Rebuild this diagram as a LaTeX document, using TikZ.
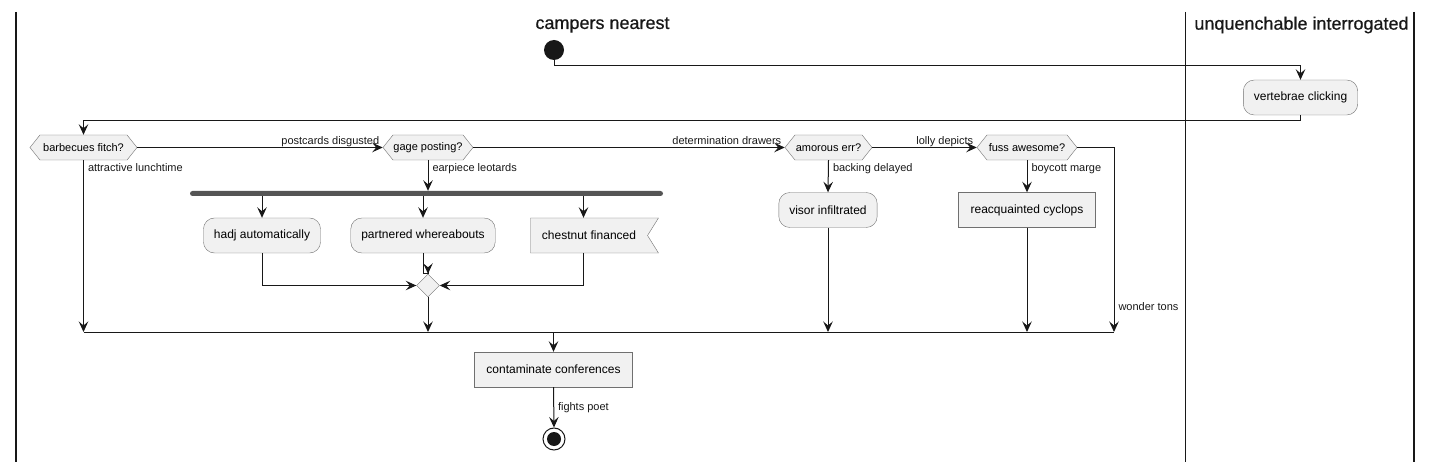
\documentclass[tikz,border=0pt]{standalone}
\usepackage{fontspec}
\setmainfont{Liberation Sans}
\newfontfamily\lanefont[FakeBold=0.6]{Liberation Sans}
\usetikzlibrary{arrows.meta,positioning,shapes.geometric,shapes.symbols}
\definecolor{Ink}{HTML}{181818}
\definecolor{Fill}{HTML}{F1F1F1}
\definecolor{Edge}{HTML}{707070}
\definecolor{Bar}{HTML}{555555}

\begin{document}
\begin{tikzpicture}[x=1pt,y=-1pt,
  flow/.style={Ink,line width=1pt,-{Stealth[length=10.5pt,width=9.5pt,inset=4pt]}},
  act/.style={draw=Edge,fill=Fill,rounded corners=11pt,minimum height=35pt,inner xsep=10.5pt,font=\fontsize{12}{14}\selectfont},
  box/.style={draw=Edge,fill=Fill,minimum height=35pt,inner xsep=12pt,font=\fontsize{12}{14}\selectfont},
  flag/.style={draw=Edge,fill=Fill,shape=signal,signal to=nowhere,signal from=east,signal pointer angle=116,minimum height=35pt,font=\fontsize{12}{14}\selectfont},
  cond/.style={draw=Edge,fill=Fill,shape=signal,signal to=east and west,signal pointer angle=103,minimum height=25pt,inner sep=0pt,font=\fontsize{11}{13}\selectfont},
  mergenode/.style={draw=Edge,fill=Fill,shape=diamond,minimum size=23pt,inner sep=0pt},
  forkbar/.style={fill=Bar,rounded corners=2.5pt,minimum height=5pt,inner sep=0pt},
  startnode/.style={circle,fill=Ink,minimum size=20pt,inner sep=0pt},
  stopnode/.style={circle,draw=Ink,line width=1pt,minimum size=22pt,inner sep=0pt},
  lbl/.style={Ink,inner sep=0pt,font=\fontsize{11}{13}\selectfont},
  lane/.style={Ink,inner sep=0pt,font=\lanefont\fontsize{18}{21}\selectfont}]
  \useasboundingbox (0,0) rectangle (1432,462);

  % swimlanes
  \draw[Ink,line width=1.5pt] (16,12) -- (16,462);
  \draw[Ink,line width=1.5pt] (1185.5,12) -- (1185.5,462);
  \draw[Ink,line width=1.5pt] (1414,12) -- (1414,462);
  \node[lane] (laneA) at (602.5,25) {campers nearest};
  \node[lane] (laneB) at (1301.5,25) {unquenchable interrogated};

  % nodes
  \node[startnode] (start) at (554,50) {};
  \node[act] (vert) at (1300.5,97.5) {vertebrae clicking};
  \node[cond,minimum width=107pt] (barb) at (83.5,147.5) {barbecues fitch?};
  \node[cond,minimum width=90pt] (gage) at (428,147.5) {gage posting?};
  \node[cond,minimum width=87pt] (amor) at (828.5,147.5) {amorous err?};
  \node[cond,minimum width=100pt] (fuss) at (1027,147.5) {fuss awesome?};
  \node[forkbar,minimum width=473pt] (fork) at (426.5,193.5) {};
  \node[act] (hadj) at (262,235.5) {hadj automatically};
  \node[act] (partn) at (423,235.5) {partnered whereabouts};
  \node[flag,minimum width=128pt] (chest) at (589,235.5) {chestnut financed};
  \node[mergenode] (merge) at (428,285.5) {};
  \node[act] (visor) at (828,210) {visor infiltrated};
  \node[box] (cyc) at (1027,210) {reacquainted cyclops};
  \node[box] (cont) at (553.5,369.5) {contaminate conferences};
  \node[stopnode] (stop) at (554,439) {};
  \fill[Ink] (stop) circle (7pt);
  \coordinate (mL) at (83.5,332);
  \coordinate (mR) at (1114,332);
  \coordinate (chestfoot) at (583.5,253);

  % connectors
  \draw[flow] (start.south) -- ++(0,5) -| (vert.north);
  \draw[flow] (vert.south) -- ++(0,5) -| (barb.north);
  \draw[flow] (barb.east) -- (gage.west)
    node[lbl,pos=1,anchor=base east,xshift=-3pt,yshift=3pt] {postcards disgusted};
  \draw[flow] (gage.east) -- (amor.west)
    node[lbl,pos=1,anchor=base east,xshift=-3pt,yshift=3pt] {determination drawers};
  \draw[flow] (amor.east) -- (fuss.west)
    node[lbl,pos=1,anchor=base east,xshift=-3pt,yshift=3pt] {lolly depicts};
  \draw[flow] (fuss.east) -| (mR)
    node[lbl,pos=1,anchor=base west,xshift=4pt,yshift=21pt] {wonder tons};
  \draw[flow] (barb.south) -- (barb.south |- mL)
    node[lbl,pos=0,anchor=base west,xshift=4pt,yshift=-11pt] {attractive lunchtime};
  \draw[flow] (gage.south) -- (gage.south |- fork.north)
    node[lbl,pos=0,anchor=base west,xshift=4pt,yshift=-11pt] {earpiece leotards};
  \draw[flow] (hadj.north |- fork.south) -- (hadj.north);
  \draw[flow] (partn.north |- fork.south) -- (partn.north);
  \draw[flow] (chestfoot |- fork.south) -- (chestfoot |- chest.north);
  \draw[flow] (hadj.south) |- (merge.west);
  \draw[flow] (partn.south) -- ++(0,20) -| (merge.north);
  \draw[flow] (chestfoot) |- (merge.east);
  \draw[flow] (merge.south) -- (merge.south |- mL);
  \draw[flow] (amor.south) -- (visor.north)
    node[lbl,pos=0,anchor=base west,xshift=4pt,yshift=-11pt] {backing delayed};
  \draw[flow] (visor.south) -- (visor.south |- mL);
  \draw[flow] (fuss.south) -- (cyc.north)
    node[lbl,pos=0,anchor=base west,xshift=4pt,yshift=-11pt] {boycott marge};
  \draw[flow] (cyc.south) -- (cyc.south |- mL);
  \draw[Ink,line width=1pt] (mL) -- (mR);
  \draw[flow] (cont.north |- mL) -- (cont.north);
  \draw[flow] (cont.south) -- (stop.north)
    node[lbl,pos=0,anchor=base west,xshift=4pt,yshift=-23pt] {fights poet};
\end{tikzpicture}
\end{document}
